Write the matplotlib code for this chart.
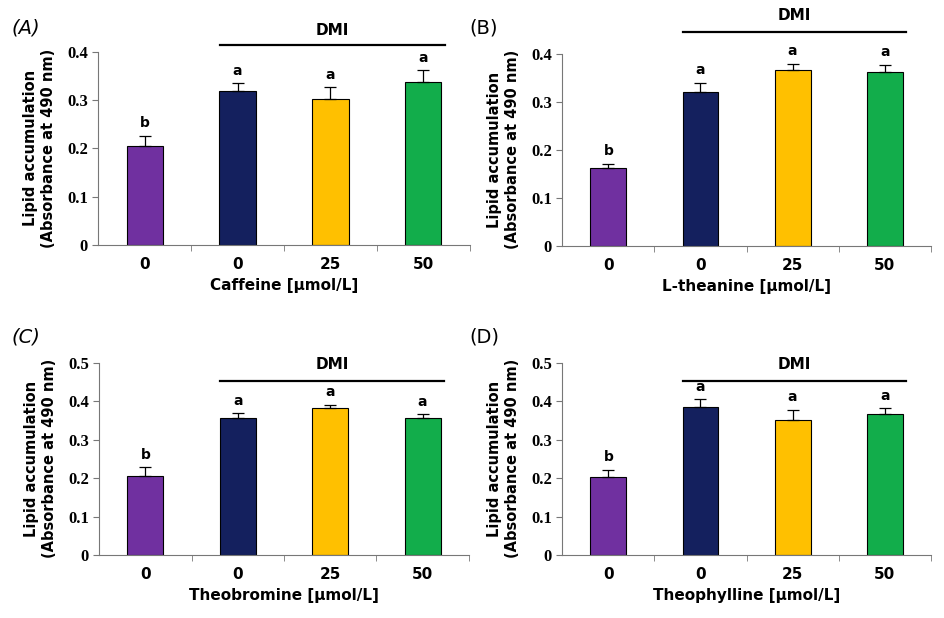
import numpy as np
import matplotlib
matplotlib.use("Agg")
import matplotlib.pyplot as plt

# ─── data ─────────────────────────────────────────────────────────────────────
doses = ["0", "0", "25", "50"]
compounds = ["Caffeine", "L-theanine", "Theobromine", "Theophylline"]
panel_tags = ["(A)", "(B)", "(C)", "(D)"]
letters = ["b", "a", "a", "a"]

means_A = [0.205, 0.319, 0.302, 0.337]
errs_A  = [0.021, 0.016, 0.025, 0.025]
means_B = [0.163, 0.321, 0.367, 0.362]
errs_B  = [0.008, 0.019, 0.012, 0.015]
means_C = [0.206, 0.356, 0.382, 0.356]
errs_C  = [0.022, 0.013, 0.009, 0.010]
means_D = [0.202, 0.386, 0.352, 0.366]
errs_D  = [0.019, 0.019, 0.026, 0.016]

ymax_list = [0.4, 0.4, 0.5, 0.5]
colors = ["#7030A0", "#14205E", "#FFC000", "#12AD4B"]

# ─── layout (figure fractions) ────────────────────────────────────────────────
positions = [
    [0.104, 0.604, 0.393, 0.312],
    [0.595, 0.602, 0.390, 0.311],
    [0.105, 0.102, 0.391, 0.311],
    [0.595, 0.102, 0.390, 0.311],
]
tag_italic = [True, False, True, False]
tag_xy = [(0.012, 0.955), (0.497, 0.955), (0.012, 0.455), (0.497, 0.455)]

fig = plt.figure(figsize=(9.45, 6.18), dpi=100)

all_means = [means_A, means_B, means_C, means_D]
all_errs = [errs_A, errs_B, errs_C, errs_D]

for i in range(4):
    ax = fig.add_axes(positions[i])
    x = np.arange(len(doses))
    m, e = all_means[i], all_errs[i]
    ymax = ymax_list[i]
    ax.bar(x, m, width=0.39, color=colors, edgecolor="black", linewidth=0.8, zorder=2)
    ax.errorbar(x, m, yerr=[np.zeros(4), e], fmt="none", ecolor="black",
                elinewidth=0.9, capsize=4, capthick=0.9, zorder=3)
    for xi, mi, ei, lt in zip(x, m, e, letters):
        ax.annotate(lt, (xi, mi + ei), xytext=(0, 4), textcoords="offset points",
                    ha="center", va="bottom", fontsize=10, fontweight="bold")

    ax.set_xlim(-0.5, 3.5)
    ax.set_ylim(0, ymax)
    ticks = np.round(np.arange(0, ymax + 0.001, 0.1), 1)
    ax.set_yticks(ticks)
    ax.set_yticklabels(["0"] + [f"{t:.1f}" for t in ticks[1:]],
                       fontfamily="Liberation Serif", fontweight="bold", fontsize=12)
    ax.set_xticks(x)
    ax.set_xticklabels(doses, fontsize=11, fontweight="bold")
    ax.set_xticks([0.5, 1.5, 2.5, 3.5], minor=True)
    ax.tick_params(axis="x", which="major", length=0, pad=9)
    ax.tick_params(axis="x", which="minor", length=4, direction="out", color="#777777")
    ax.tick_params(axis="y", length=4, color="#777777")

    for s in ["top", "right"]:
        ax.spines[s].set_visible(False)
    for s in ["left", "bottom"]:
        ax.spines[s].set_color("#777777")
        ax.spines[s].set_linewidth(0.8)

    ax.set_xlabel(f"{compounds[i]} [\u03bcmol/L]", fontsize=11, fontweight="bold", labelpad=4)
    ax.set_ylabel("Lipid accumulation\n(Absorbance at 490 nm)", fontsize=10.5,
                  fontweight="bold", labelpad=8)

    # DMI bracket
    if i < 2:
        line_y = [0.4145, 0.446][i]
        text_y = [0.445, 0.479][i]
    else:
        line_y, text_y = 0.453, 0.495
    ax.plot([0.81, 3.23], [line_y, line_y], color="black", lw=1.6, clip_on=False)
    ax.text(2.02, text_y, "DMI", ha="center", va="center", fontsize=11,
            fontweight="bold", clip_on=False)

    fig.text(tag_xy[i][0], tag_xy[i][1], panel_tags[i], fontsize=14,
             style="italic" if tag_italic[i] else "normal", ha="left", va="center")

fig.savefig("out.png", dpi=100)
